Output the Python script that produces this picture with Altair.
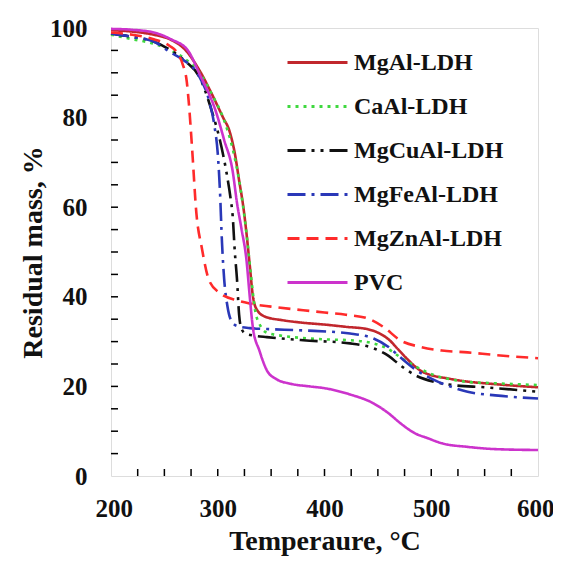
import altair as alt
import pandas as pd

# ---------------- data ----------------
series = ["MgAl-LDH", "CaAl-LDH", "MgCuAl-LDH", "MgFeAl-LDH", "MgZnAl-LDH", "PVC"]
colors = ["#c1272d", "#3fd83f", "#111111", "#2a38b8", "#ff2b2b", "#cc33cc"]
dashes = [[1, 0], [3, 5], [18, 6, 3, 6, 3, 6], [18, 6, 3, 6], [12, 7], [1, 0]]

mgal_t = [200, 220, 240, 255, 270, 283, 295, 305, 311, 316, 320, 324, 327, 330, 333, 337, 345, 360, 380, 400, 420, 440, 450, 460, 470, 478, 490, 500, 515, 530, 560, 600]
mgal_m = [99.5, 99.2, 98.5, 97.5, 95.0, 90.5, 85.0, 80.0, 77.0, 72.0, 66.0, 60.0, 54.0, 47.0, 40.0, 37.0, 35.5, 34.8, 34.2, 33.8, 33.3, 32.8, 32.0, 30.5, 28.0, 26.0, 23.5, 22.5, 21.8, 21.2, 20.5, 19.8]

caal_t = [200, 220, 240, 256, 270, 283, 295, 305, 314, 320, 327, 331, 335, 340, 346, 360, 380, 400, 424, 446, 460, 471, 485, 503, 520, 534, 560, 600]
caal_m = [98.5, 97.5, 96.5, 95.0, 93.0, 90.0, 85.0, 80.0, 73.0, 66.0, 54.0, 45.0, 37.0, 33.5, 32.0, 31.3, 30.8, 30.5, 30.3, 29.6, 28.3, 26.5, 24.5, 22.5, 21.5, 21.0, 20.7, 20.3]

mgcual_t = [200, 220, 240, 256, 270, 283, 295, 302, 308, 312, 314, 316, 318, 320, 322, 326, 335, 346, 380, 424, 446, 460, 471, 485, 503, 520, 550, 600]
mgcual_m = [98.8, 98.0, 97.0, 95.0, 92.5, 89.0, 81.0, 75.0, 68.0, 62.0, 58.0, 50.0, 44.0, 36.0, 33.0, 31.8, 31.3, 31.0, 30.3, 29.6, 28.5, 26.8, 24.7, 22.5, 21.0, 20.3, 19.8, 18.8]

mgfeal_t = [200, 220, 240, 256, 267, 283, 292, 297, 300, 302, 304, 306, 309, 313, 318, 330, 346, 380, 424, 446, 460, 471, 485, 503, 520, 534, 560, 600]
mgfeal_m = [98.8, 98.0, 97.0, 94.5, 93.0, 89.0, 83.7, 78.0, 72.0, 64.0, 52.0, 44.0, 38.0, 34.5, 33.5, 33.0, 32.8, 32.5, 31.8, 30.7, 28.8, 26.5, 23.8, 21.4, 19.8, 18.8, 18.0, 17.3]

mgznal_t = [200, 220, 240, 255, 262, 267, 271, 273, 276, 280, 285, 292, 302, 318, 330, 350, 380, 400, 420, 440, 455, 471, 490, 510, 534, 560, 600]
mgznal_m = [99.0, 98.5, 97.5, 96.0, 94.5, 92.0, 88.0, 83.0, 73.0, 58.6, 51.0, 43.6, 40.8, 39.2, 38.5, 37.8, 37.0, 36.5, 36.0, 35.2, 33.3, 30.3, 28.8, 28.0, 27.6, 27.0, 26.3]

pvc_t = [200, 220, 240, 256, 272, 283, 299, 306, 314, 318, 322, 327, 330, 333, 339, 346, 355, 368, 386, 400, 424, 446, 460, 471, 485, 496, 510, 534, 560, 600]
pvc_m = [99.8, 99.6, 99.0, 97.5, 95.0, 89.7, 80.8, 75.0, 68.0, 61.0, 55.5, 48.0, 40.0, 33.0, 28.0, 23.6, 21.6, 20.6, 20.0, 19.6, 18.2, 16.2, 14.0, 11.8, 9.5, 8.5, 7.3, 6.5, 6.0, 5.8]

x_ticks = [200, 300, 400, 500, 600]
y_ticks = [0, 20, 40, 60, 80, 100]
x_minor = [225, 250, 275, 300, 325, 350, 375, 400, 425, 450, 475, 500, 525, 550, 575]
y_minor = [5, 10, 15, 20, 25, 30, 35, 40, 45, 50, 55, 60, 65, 70, 75, 80, 85, 90, 95]

# ---------------- build table ----------------
pairs = [(mgal_t, mgal_m), (caal_t, caal_m), (mgcual_t, mgcual_m),
         (mgfeal_t, mgfeal_m), (mgznal_t, mgznal_m), (pvc_t, pvc_m)]
rows = []
for name, (ts, ms) in zip(series, pairs):
    for t, m in zip(ts, ms):
        rows.append({"series": name, "T": t, "mass": m})
df = pd.DataFrame(rows)

W, H = 427, 448
FONT = "Liberation Serif"

xscale = alt.Scale(domain=[200, 600], nice=False)
yscale = alt.Scale(domain=[0, 100], nice=False)

lines = alt.Chart(df).mark_line(strokeWidth=2.6, interpolate="monotone").encode(
    x=alt.X("T:Q", scale=xscale,
            axis=alt.Axis(values=x_ticks, title="Temperaure, °C", grid=False,
                          ticks=False, domain=False, labelPadding=20,
                          labelFlush=True, labelFlushOffset=16,
                          labelFontSize=25, labelFontWeight="bold", labelFont=FONT,
                          titleFontSize=28, titleFontWeight="bold", titleFont=FONT,
                          titlePadding=6, labelColor="#111", titleColor="#111")),
    y=alt.Y("mass:Q", scale=yscale,
            axis=alt.Axis(values=y_ticks, title="Residual mass, %", grid=False,
                          ticks=False, domain=False, labelPadding=24, labelFlush=False,
                          labelFontSize=25, labelFontWeight="bold", labelFont=FONT,
                          titleFontSize=28, titleFontWeight="bold", titleFont=FONT,
                          titlePadding=2, labelColor="#111", titleColor="#111")),
    color=alt.Color("series:N", scale=alt.Scale(domain=series, range=colors),
                    sort=series, title=None,
                    legend=alt.Legend(orient="none", legendX=175, legendY=3,
                                      symbolType="stroke", symbolSize=3600,
                                      symbolStrokeWidth=2.8, rowPadding=0,
                                      labelFontSize=24, labelFontWeight="bold",
                                      labelFont=FONT, labelColor="#111",
                                      labelOffset=5, labelLimit=300)),
    strokeDash=alt.StrokeDash("series:N", scale=alt.Scale(domain=series, range=dashes),
                              sort=series, title=None),
)

xt = alt.Chart(pd.DataFrame({"t": x_minor})).mark_rule(color="black", strokeWidth=1.5).encode(
    x=alt.X("t:Q", scale=xscale), y=alt.value(H), y2=alt.value(H - 7))
yt = alt.Chart(pd.DataFrame({"v": y_minor})).mark_rule(color="black", strokeWidth=1.5).encode(
    y=alt.Y("v:Q", scale=yscale), x=alt.value(0), x2=alt.value(7))

chart = alt.layer(lines, xt, yt).properties(
    width=W, height=H,
    autosize=alt.AutoSizeParams(type="none"),
    padding={"left": 103, "top": 20, "right": 15, "bottom": 80},
).configure_view(stroke="black", strokeWidth=2).configure(background="white")

chart.save("out.html", embed_options={"renderer": "svg", "actions": False})
